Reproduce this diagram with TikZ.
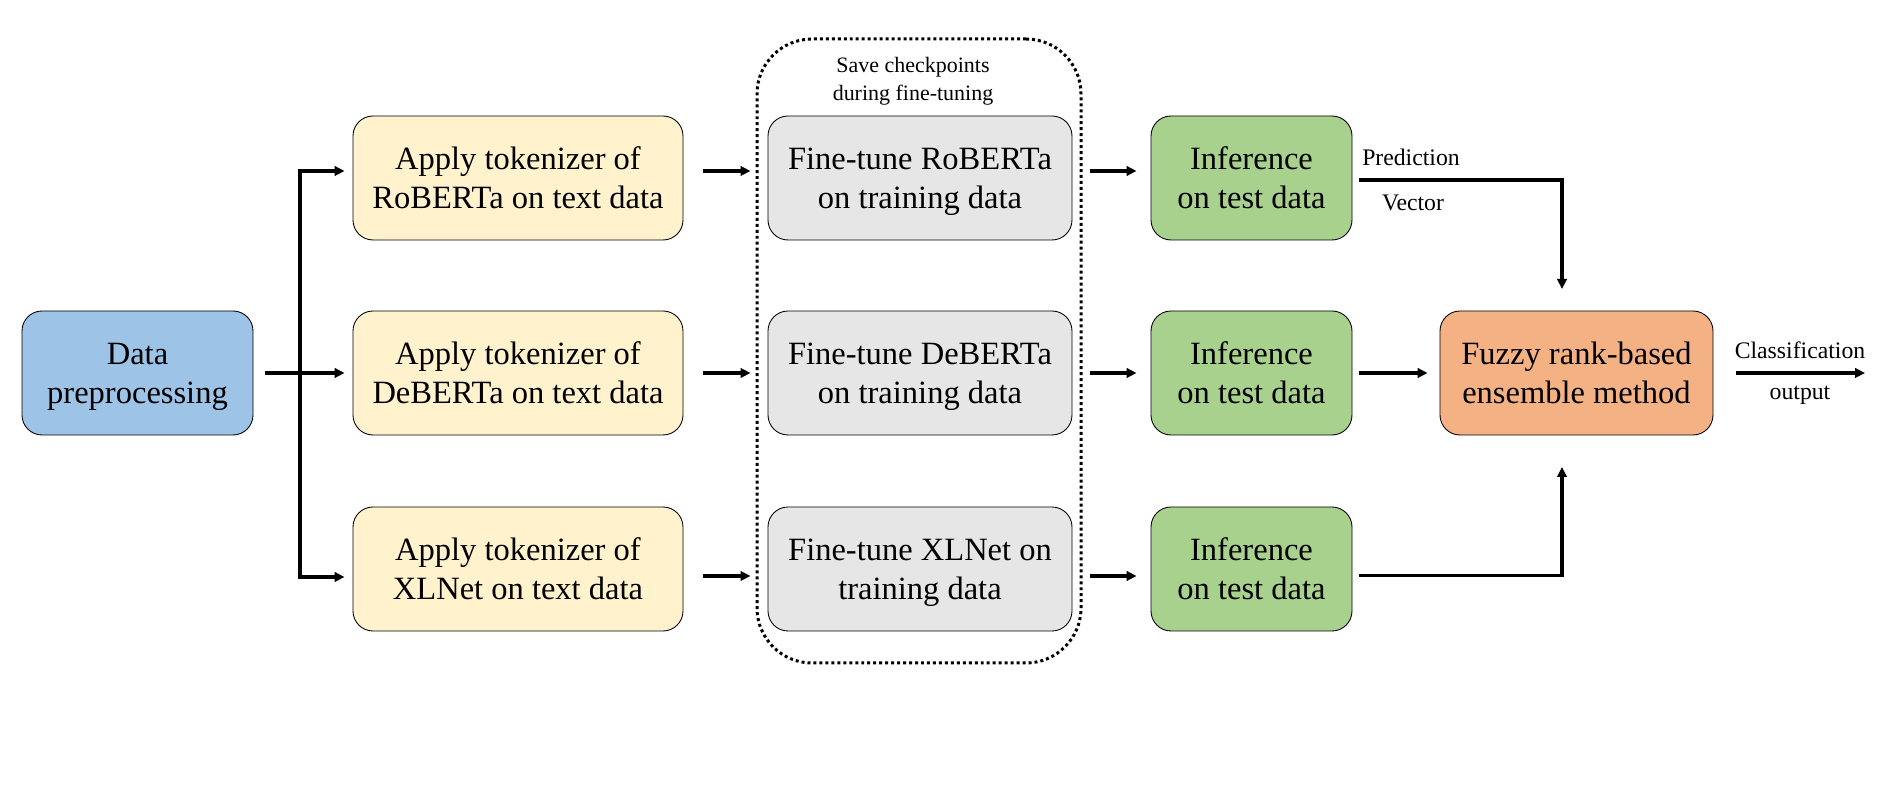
\documentclass[tikz,border=0pt]{standalone}
\usepackage{fontspec}
\setmainfont{Liberation Serif}
\usepackage{tikz}
\usetikzlibrary{arrows.meta, calc}
\definecolor{prepblue}{RGB}{157,195,230}
\definecolor{tokyellow}{RGB}{255,242,204}
\definecolor{tunegray}{RGB}{231,230,230}
\definecolor{infgreen}{RGB}{169,209,142}
\definecolor{fuzzyorange}{RGB}{244,177,131}

\begin{document}
\begin{tikzpicture}[
    box/.style={draw=black, line width=0.5pt, rounded corners=0.4cm, align=center,
      minimum height=2.48cm, inner sep=2pt, font=\fontsize{18.5}{22.7}\selectfont,
      execute at begin node=\rule{0pt}{42pt}, execute at end node=\rule[-6.8pt]{0pt}{0pt}},
    arr/.style={line width=1.8pt, -{Triangle[length=0.2cm, width=0.19cm]}},
    lbl/.style={font=\fontsize{13.5}{16}\selectfont, inner sep=1pt}
  ]
  \useasboundingbox (0,0) rectangle (37.8,15.88);

  % Input
  \node[box, fill=prepblue, minimum width=4.62cm] (data) at (2.75, 8.42) {Data\\preprocessing};

  % Tokenizers
  \node[box, fill=tokyellow, minimum width=6.6cm] (tok1) at (10.36, 12.32) {Apply tokenizer of\\RoBERTa on text data};
  \node[box, fill=tokyellow, minimum width=6.6cm] (tok2) at (10.36, 8.42) {Apply tokenizer of\\DeBERTa on text data};
  \node[box, fill=tokyellow, minimum width=6.6cm] (tok3) at (10.36, 4.50) {Apply tokenizer of\\XLNet on text data};

  % Fine-tuning inside the checkpoint frame
  \node[draw, line width=1.7pt, dash pattern=on 1.7pt off 1.7pt, rounded corners=1.1cm,
    minimum width=6.48cm, minimum height=12.48cm] (ckpt) at (18.38, 8.86) {};
  \node[font=\fontsize{12.5}{15.9}\selectfont, align=center] (ckptlbl) at (18.26, 14.26) {Save checkpoints\\during fine-tuning};
  \node[box, fill=tunegray, minimum width=6.08cm] (ft1) at (18.40, 12.32) {Fine-tune RoBERTa\\on training data};
  \node[box, fill=tunegray, minimum width=6.08cm] (ft2) at (18.40, 8.42) {Fine-tune DeBERTa\\on training data};
  \node[box, fill=tunegray, minimum width=6.08cm] (ft3) at (18.40, 4.50) {Fine-tune XLNet on\\training data};

  % Inference
  \node[box, fill=infgreen, minimum width=4.02cm] (inf1) at (25.03, 12.32) {Inference\\on test data};
  \node[box, fill=infgreen, minimum width=4.02cm] (inf2) at (25.03, 8.42) {Inference\\on test data};
  \node[box, fill=infgreen, minimum width=4.02cm] (inf3) at (25.03, 4.50) {Inference\\on test data};

  % Ensemble
  \node[box, fill=fuzzyorange, minimum width=5.46cm] (fuzzy) at (31.53, 8.42) {Fuzzy rank-based\\ensemble method};

  % Split to the tokenizers
  \coordinate (forktop) at (6.0, 12.46);
  \coordinate (forkbot) at (6.0, 4.34);
  \draw[arr, shorten <=0.24cm, shorten >=0.16cm] (data.east) -- (tok2.west);
  \draw[arr, shorten >=0.16cm] (forkbot) -- (forktop) -- (forktop -| tok1.west);
  \draw[arr, shorten >=0.16cm] (forktop) -- (forkbot) -- (forkbot -| tok3.west);

  % Tokenizer -> fine-tune -> inference
  \draw[arr, shorten <=0.4cm, shorten >=0.1cm] ($(tok1.east)+(0,0.14)$) -- ($(ckpt.west |- tok1.east)+(0,0.14)$);
  \draw[arr, shorten <=0.4cm, shorten >=0.1cm] (tok2.east) -- (ckpt.west |- tok2.east);
  \draw[arr, shorten <=0.4cm, shorten >=0.1cm] ($(tok3.east)+(0,-0.14)$) -- ($(ckpt.west |- tok3.east)+(0,-0.14)$);
  \draw[arr, shorten <=0.14cm, shorten >=0.28cm] ($(ckpt.east |- ft1.east)+(0,0.14)$) -- ($(inf1.west)+(0,0.14)$);
  \draw[arr, shorten <=0.14cm, shorten >=0.28cm] (ckpt.east |- ft2.east) -- (inf2.west);
  \draw[arr, shorten <=0.14cm, shorten >=0.28cm] ($(ckpt.east |- ft3.east)+(0,-0.14)$) -- ($(inf3.west)+(0,-0.14)$);

  % Prediction vectors into the ensemble
  \coordinate (tiptop) at (31.24, 10.10);
  \coordinate (tipbot) at (31.24, 6.54);
  \draw[arr, shorten <=0.14cm] ($(inf1.east)+(0,-0.04)$) -| (tiptop);
  \draw[arr, shorten <=0.14cm, shorten >=0.24cm] (inf2.east) -- (fuzzy.west);
  \draw[arr, shorten <=0.14cm] ($(inf3.east)+(0,-0.13)$) -| (tipbot);
  \node[lbl] (predlbl) at (28.22, 12.74) {Prediction};
  \node[lbl] (veclbl) at (28.26, 11.82) {Vector};

  % Output
  \coordinate (out) at (37.3, 8.42);
  \draw[arr, shorten <=0.46cm] (fuzzy.east) -- (out);
  \node[lbl] (clslbl) at (36.0, 8.88) {Classification};
  \node[lbl] (outlbl) at (36.0, 7.98) {output};
\end{tikzpicture}
\end{document}
